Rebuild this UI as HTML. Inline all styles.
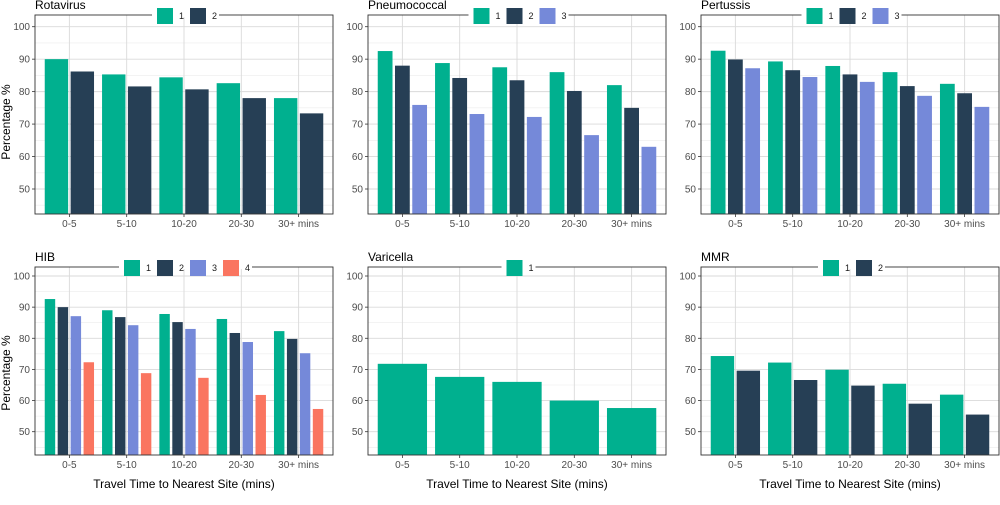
<!DOCTYPE html>
<html><head><meta charset="utf-8"><style>
body{margin:0;background:#fff;}
svg text{font-family:"Liberation Sans",sans-serif;}
</style></head><body>
<svg id="c" width="1000" height="500" xmlns="http://www.w3.org/2000/svg"></svg>
<script>
const categories = ["0-5","5-10","10-20","20-30","30+ mins"];
const yTicks = [50,60,70,80,90,100];
const colors = ["#00b08f","#263f55","#7589d9","#fa7560"];
const rotavirus1 = [90,85.3,84.4,82.6,78];
const rotavirus2 = [86.2,81.6,80.7,78,73.3];
const pneumo1 = [92.5,88.8,87.5,86,82];
const pneumo2 = [88,84.2,83.5,80.2,75];
const pneumo3 = [75.9,73.1,72.2,66.6,63];
const pertussis1 = [92.6,89.3,87.9,86,82.4];
const pertussis2 = [89.9,86.6,85.3,81.7,79.5];
const pertussis3 = [87.2,84.5,83,78.7,75.3];
const hib1 = [92.6,89,87.8,86.2,82.3];
const hib2 = [90,86.8,85.2,81.7,79.8];
const hib3 = [87.1,84.2,83,78.8,75.2];
const hib4 = [72.3,68.8,67.3,61.8,57.3];
const varicella1 = [71.8,67.6,66,60,57.6];
const mmr1 = [74.3,72.2,69.9,65.4,61.9];
const mmr2 = [69.6,66.6,64.8,59,55.5];

const panels = [
 {t:"Rotavirus",s:[rotavirus1,rotavirus2],col:0,row:0},
 {t:"Pneumococcal",s:[pneumo1,pneumo2,pneumo3],col:1,row:0},
 {t:"Pertussis",s:[pertussis1,pertussis2,pertussis3],col:2,row:0},
 {t:"HIB",s:[hib1,hib2,hib3,hib4],col:0,row:1},
 {t:"Varicella",s:[varicella1],col:1,row:1},
 {t:"MMR",s:[mmr1,mmr2],col:2,row:1}
];
const NS="http://www.w3.org/2000/svg";
const svg=document.getElementById('c');
function mk(tag,at,parent){const e=document.createElementNS(NS,tag);for(const k in at)e.setAttribute(k,at[k]);(parent||svg).appendChild(e);return e;}
const X0=[35,368,701], W=298;
const rows=[{top:15,bot:214,y100:26.7,y50:189},{top:267,bot:455,y100:276,y50:431.7}];

panels.forEach(p=>{
 const g=mk('g',{});
 
 
 const x0=X0[p.col], r=rows[p.row];
 const yS=v=>r.y50+(v-50)*(r.y100-r.y50)/50;
 const step=W/5.2;
 const xS=i=>x0+step*(0.6+i);
 for(let v=45;v<=105;v+=10){const y=yS(v);if(y>r.top&&y<r.bot)mk('line',{x1:x0,x2:x0+W,y1:y,y2:y,stroke:'#ececec','stroke-width':0.6},g);}
 yTicks.forEach(v=>{const y=yS(v);
  const l=mk('line',{x1:x0,x2:x0+W,y1:y,y2:y,stroke:'#dadada','stroke-width':0.9},g);
  
  
  mk('line',{x1:x0-3,x2:x0,y1:y,y2:y,stroke:'#333','stroke-width':0.8},g);
  const t=mk('text',{x:x0-5,y:y+3.5,'text-anchor':'end','font-size':10,fill:'#4d4d4d'},g);t.textContent=v;
  
  
 });
 categories.forEach((c,i)=>{const x=xS(i);
  mk('line',{x1:x,x2:x,y1:r.top,y2:r.bot,stroke:'#dadada','stroke-width':0.9},g);
  mk('line',{x1:x,x2:x,y1:r.bot,y2:r.bot+3,stroke:'#333','stroke-width':0.8},g);
  const t=mk('text',{x:x,y:r.bot+13,'text-anchor':'middle','font-size':10,fill:'#4d4d4d'},g);t.textContent=c;
  
  
 });
 const n=p.s.length, gw=step*0.86, gap=2.5, bw=(gw-gap*(n-1))/n;
 p.s.forEach((arr,si)=>{arr.forEach((v,i)=>{
  const x=xS(i)-gw/2+si*(bw+gap), y=yS(v);
  const b=mk('rect',{x:x,y:y,width:bw,height:r.bot-y,fill:colors[si]},g);
  
  
 });});
 mk('rect',{x:x0,y:r.top,width:W,height:r.bot-r.top,fill:'none',stroke:'#333','stroke-width':0.9},g);
 const iw=33, lx=x0+W/2-(16.5*n-6);
 const lg=mk('g',{},g);
 
 
 mk('rect',{x:lx-5,y:r.top-2,width:n*iw+1,height:4,fill:'#fff'},lg);
 for(let si=0;si<n;si++){
  const kx=lx+si*iw;
  const k=mk('rect',{x:kx,y:r.top-7,width:16,height:16,fill:colors[si]},lg);
  
  
  const t=mk('text',{x:kx+22,y:r.top+4,'font-size':9,fill:'#1a1a1a'},lg);t.textContent=si+1;
 }
 const tt=mk('text',{x:x0,y:r.top-6,'font-size':12,fill:'#000'},g);tt.textContent=p.t;
 
 
});
[122,373].forEach(yy=>{
 const t=mk('text',{x:0,y:0,'font-size':12,'text-anchor':'middle',fill:'#000',transform:`translate(10,${yy}) rotate(-90)`});
 t.textContent='Percentage %';
 
 
});
X0.forEach(x=>{
 const t=mk('text',{x:x+W/2,y:488,'font-size':12,'text-anchor':'middle',fill:'#000'});
 t.textContent='Travel Time to Nearest Site (mins)';
 
 
});
</script>
</body></html>
